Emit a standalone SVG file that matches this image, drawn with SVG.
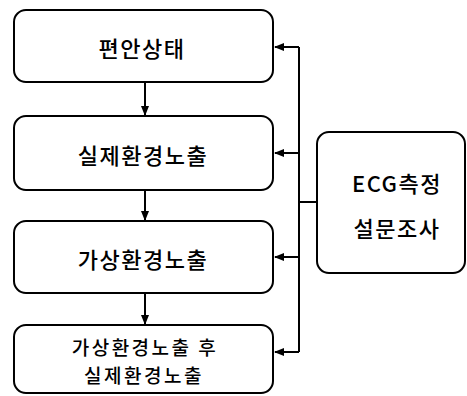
<svg xmlns="http://www.w3.org/2000/svg" width="467" height="396" viewBox="0 0 467 396">
<style>
.box{fill:#fff;stroke:#000;stroke-width:2}
.t{font-family:"Noto Sans CJK KR","Noto Sans",sans-serif;font-size:22px;font-weight:500;fill:#000;text-anchor:middle;dominant-baseline:central;letter-spacing:1.5px}
.s{font-size:19px;letter-spacing:2.5px}
.c{fill:none;stroke:#000;stroke-width:2}
</style>
<defs>
<marker id="ah" markerWidth="10" markerHeight="8" refX="9" refY="4" orient="auto" markerUnits="userSpaceOnUse">
<path d="M0,0 L10,4 L0,8 Z" fill="#000"/>
</marker>
</defs>
<rect width="467" height="396" fill="#fff"/>
<g id="n1"><rect class="box" x="14" y="10" width="259" height="72" rx="12"/><text class="t" x="142" y="47">편안상태</text></g>
<g id="n2"><rect class="box" x="14" y="116" width="259" height="74" rx="12"/><text class="t" x="143" y="154">실제환경노출</text></g>
<g id="n3"><rect class="box" x="14" y="221" width="259" height="72" rx="12"/><text class="t" x="143" y="258">가상환경노출</text></g>
<g id="n4"><rect class="box" x="14" y="325" width="259" height="68" rx="12"/><text class="t s" x="145" y="346">가상환경노출 후</text><text class="t s" x="144" y="374">실제환경노출</text></g>
<g id="n5"><rect class="box" x="317" y="132" width="148" height="141" rx="12"/><text class="t" x="397" y="182">ECG측정</text><text class="t" x="397" y="227">설문조사</text></g>
<g id="connectors">
<path class="c" d="M145,82 V115" marker-end="url(#ah)"/>
<path class="c" d="M145,190 V220" marker-end="url(#ah)"/>
<path class="c" d="M145,293 V324" marker-end="url(#ah)"/>
<path class="c" d="M299,47 V352"/>
<path class="c" d="M317,202 H299"/>
<path class="c" d="M299,47 H275" marker-end="url(#ah)"/>
<path class="c" d="M299,153 H275" marker-end="url(#ah)"/>
<path class="c" d="M299,257 H275" marker-end="url(#ah)"/>
<path class="c" d="M299,352 H275" marker-end="url(#ah)"/>
</g>
</svg>
